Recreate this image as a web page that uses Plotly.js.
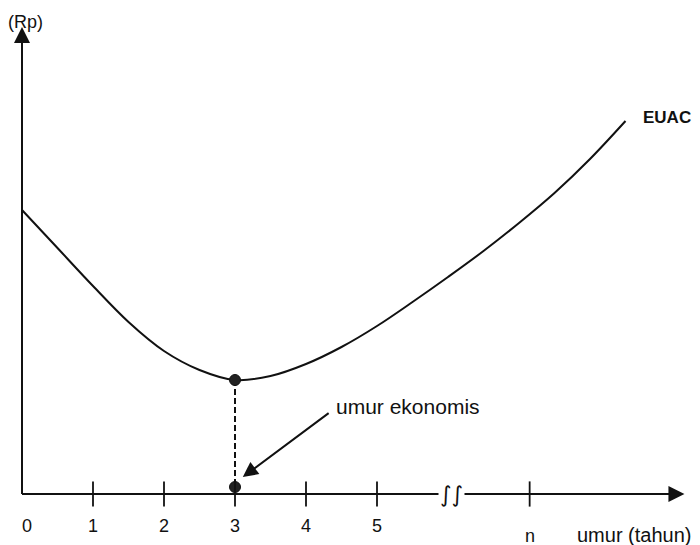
<!DOCTYPE html>
<html>
<head>
<meta charset="utf-8">
<script src="https://cdn.plot.ly/plotly-3.0.1.min.js"></script>
<style>
  html, body { margin: 0; padding: 0; background: #fff; }
  #chart { width: 700px; height: 545px; }
</style>
</head>
<body>
<div id="chart"></div>
<script>
// --- data (x in years, y in arbitrary Rp units above the axis) ---
const euacYears = [0, 0.5, 1, 1.5, 2, 2.5, 3, 3.5, 4, 4.5, 5, 5.5, 6, 6.5, 7, 7.5, 8, 8.5];
const euacCost  = [284, 246, 208, 172, 143, 124, 114, 118, 130, 147, 168, 192, 217, 243, 271, 301, 335, 373];

const tickYears  = [1, 2, 3, 4, 5, 7.15];
const labelYears = [0.07, 1, 2, 3, 4, 5];
const labelText  = ['0', '1', '2', '3', '4', '5'];

const economicAge  = 3;
const economicCost = 114;
const axisDotCost  = 7;

const ink = '#111';

const curveTrace = {
    x: euacYears, y: euacCost,
    mode: 'lines', type: 'scatter',
    line: { color: ink, width: 2, shape: 'spline', smoothing: 1 },
    hoverinfo: 'skip'
};

const dropTrace = {
    x: [economicAge, economicAge], y: [economicCost, axisDotCost],
    mode: 'lines', type: 'scatter',
    line: { color: ink, width: 2, dash: '6px,3px' },
    hoverinfo: 'skip'
};

const dotTrace = {
    x: [economicAge, economicAge], y: [economicCost, axisDotCost],
    mode: 'markers', type: 'scatter',
    marker: { color: '#222', size: 11, line: { color: ink, width: 1 } },
    hoverinfo: 'skip'
};

const tickTrace = {
    x: tickYears, y: tickYears.map(() => 0),
    mode: 'markers', type: 'scatter',
    marker: { symbol: 'line-ns', size: 18, line: { color: ink, width: 1.8 } },
    hoverinfo: 'skip'
};

const labelTrace = {
    x: labelYears, y: labelYears.map(() => -33),
    text: labelText,
    mode: 'text', type: 'scatter',
    textfont: { family: 'Liberation Sans, Arial, sans-serif', size: 18, color: ink },
    hoverinfo: 'skip'
};

const font = { family: 'Liberation Sans, Arial, sans-serif', size: 18, color: ink };

const layout = {
    width: 700, height: 545,
    margin: { l: 0, r: 0, t: 0, b: 0 },
    paper_bgcolor: '#fff', plot_bgcolor: '#fff',
    showlegend: false,
    xaxis: { range: [-22 / 71, 678 / 71], visible: false, fixedrange: true },
    yaxis: { range: [-51, 494], visible: false, fixedrange: true },
    shapes: [
        { type: 'line', x0: 0, y0: 0, x1: 9.2, y1: 0, line: { color: ink, width: 2 } },
        { type: 'line', x0: 0, y0: 0, x1: 0, y1: 455, line: { color: ink, width: 2 } }
    ],
    annotations: [
        // axis arrowheads
        { x: 9.33, y: 0, ax: 9.0, ay: 0, axref: 'x', ayref: 'y', text: '', showarrow: true,
          arrowhead: 2, arrowsize: 1.6, arrowwidth: 2, arrowcolor: ink, standoff: 0 },
        { x: 0, y: 467, ax: 0, ay: 430, axref: 'x', ayref: 'y', text: '', showarrow: true,
          arrowhead: 2, arrowsize: 1.6, arrowwidth: 2, arrowcolor: ink, standoff: 0 },
        // pointer to the economic life
        { x: 3.11, y: 17, ax: 4.34, ay: 82, axref: 'x', ayref: 'y', text: '', showarrow: true,
          arrowhead: 2, arrowsize: 1.5, arrowwidth: 2, arrowcolor: ink, standoff: 0 },
        { x: 4.4, y: 88, text: 'umur ekonomis', showarrow: false, xanchor: 'left',
          font: { ...font, size: 21 } },
        { x: 8.72, y: 377, text: '<b>EUAC</b>', showarrow: false, xanchor: 'left',
          font: { ...font, size: 17 } },
        { x: 0.05, y: 472, text: '(Rp)', showarrow: false, font: { ...font, size: 18 } },
        { x: 7.15, y: -42, text: 'n', showarrow: false, font: font },
        { x: 8.62, y: -41, text: 'umur (tahun)', showarrow: false, font: { ...font, size: 20 } },
        { x: 6.05, y: 0, text: '∫∫', showarrow: false, bgcolor: '#fff',
          font: { family: 'DejaVu Sans, sans-serif', size: 22, color: ink } }
    ]
};

Plotly.newPlot('chart', [curveTrace, dropTrace, dotTrace, tickTrace, labelTrace], layout,
    { staticPlot: true, displayModeBar: false });
</script>
</body>
</html>
